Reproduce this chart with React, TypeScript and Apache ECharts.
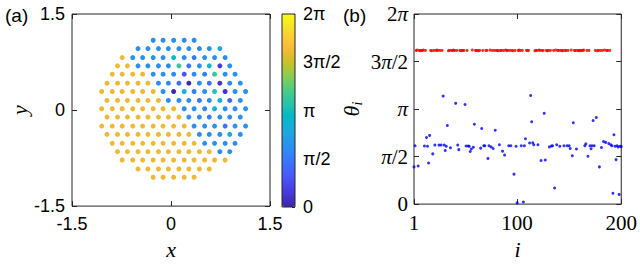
import React, { useEffect, useRef } from 'react';
import * as echarts from 'echarts';

const PI = Math.PI;
const SANS = '"Liberation Sans", Arial, sans-serif';
const SERIF = '"Liberation Serif", "Times New Roman", serif';
const BOX = '#262626';

// ---------- panel (a): particle positions and phases [x, y, theta] ----------
const diskYellow: number[][] = [
  [-0.74, 0.82, 5.08],
  [-0.81, 0.69, 5.08], [-0.66, 0.69, 5.08],
  [-0.89, 0.56, 5.08], [-0.74, 0.56, 5.08], [-0.58, 0.56, 5.08], [-0.43, 0.56, 5.08],
  [-0.97, 0.42, 5.08], [-0.81, 0.42, 5.08], [-0.66, 0.42, 5.08], [-0.5, 0.42, 5.08], [-0.35, 0.42, 5.08],
  [-1.05, 0.29, 5.08], [-0.89, 0.29, 5.08], [-0.74, 0.29, 5.08], [-0.58, 0.29, 5.08], [-0.43, 0.29, 5.08], [-0.27, 0.29, 5.08],
  [-0.97, 0.15, 5.08], [-0.81, 0.15, 5.08], [-0.66, 0.15, 5.08], [-0.5, 0.15, 5.08], [-0.35, 0.15, 5.08], [-0.19, 0.15, 5.08],
  [-1.05, 0.02, 5.08], [-0.89, 0.02, 5.08], [-0.74, 0.02, 5.08], [-0.58, 0.02, 5.08], [-0.43, 0.02, 5.08], [-0.27, 0.02, 5.08], [-0.12, 0.02, 5.08], [0.04, 0.02, 5.08],
  [-0.97, -0.11, 5.08], [-0.81, -0.11, 5.08], [-0.66, -0.11, 5.08], [-0.5, -0.11, 5.08], [-0.35, -0.11, 5.08], [-0.19, -0.11, 5.08], [-0.04, -0.11, 5.08], [0.12, -0.11, 5.08],
  [-1.05, -0.25, 5.08], [-0.89, -0.25, 5.08], [-0.74, -0.25, 5.08], [-0.58, -0.25, 5.08], [-0.43, -0.25, 5.08], [-0.27, -0.25, 5.08], [-0.12, -0.25, 5.08], [0.04, -0.25, 5.08], [0.2, -0.25, 5.08],
  [-0.97, -0.38, 5.08], [-0.81, -0.38, 5.08], [-0.66, -0.38, 5.08], [-0.5, -0.38, 5.08], [-0.35, -0.38, 5.08], [-0.19, -0.38, 5.08], [-0.04, -0.38, 5.08], [0.12, -0.38, 5.08], [0.27, -0.38, 5.08],
  [-0.89, -0.52, 5.08], [-0.74, -0.52, 5.08], [-0.58, -0.52, 5.08], [-0.43, -0.52, 5.08], [-0.27, -0.52, 5.08], [-0.12, -0.52, 5.08], [0.04, -0.52, 5.08], [0.2, -0.52, 5.08], [0.35, -0.52, 5.08],
  [-0.81, -0.65, 5.08], [-0.66, -0.65, 5.08], [-0.5, -0.65, 5.08], [-0.35, -0.65, 5.08], [-0.19, -0.65, 5.08], [-0.04, -0.65, 5.08], [0.12, -0.65, 5.08], [0.27, -0.65, 5.08], [0.43, -0.65, 5.08], [0.58, -0.65, 5.08],
  [-0.74, -0.78, 5.08], [-0.58, -0.78, 5.08], [-0.43, -0.78, 5.08], [-0.27, -0.78, 5.08], [-0.12, -0.78, 5.08], [0.04, -0.78, 5.08], [0.2, -0.78, 5.08], [0.35, -0.78, 5.08], [0.51, -0.78, 5.08], [0.66, -0.78, 5.08], [0.82, -0.78, 5.08],
  [-0.5, -0.92, 5.08], [-0.35, -0.92, 5.08], [-0.19, -0.92, 5.08], [-0.04, -0.92, 5.08], [0.12, -0.92, 5.08], [0.27, -0.92, 5.08], [0.43, -0.92, 5.08], [0.58, -0.92, 5.08],
  [-0.27, -1.05, 5.08], [-0.12, -1.05, 5.08], [0.04, -1.05, 5.08], [0.2, -1.05, 5.08], [0.35, -1.05, 5.08],
];

const diskBlue: number[][] = [
  [-0.27, 1.09, 1.93], [-0.12, 1.09, 1.9], [0.04, 1.09, 1.95], [0.2, 1.09, 1.93], [0.35, 1.09, 1.92],
  [-0.5, 0.96, 1.93], [-0.35, 0.96, 1.91], [-0.19, 0.96, 1.95], [-0.04, 0.96, 1.93], [0.12, 0.96, 1.92], [0.27, 0.96, 1.93], [0.43, 0.96, 1.9], [0.58, 0.96, 1.93], [0.74, 0.96, 2.5],
  [-0.58, 0.82, 1.93], [-0.43, 0.82, 1.93], [-0.27, 0.82, 1.96], [-0.12, 0.82, 1.93], [0.04, 0.82, 3.0], [0.2, 0.82, 1.93], [0.35, 0.82, 1.62], [0.51, 0.82, 1.93], [0.66, 0.82, 1.91], [0.82, 0.82, 1.93],
  [-0.5, 0.69, 1.93], [-0.35, 0.69, 1.93], [-0.19, 0.69, 1.95], [-0.04, 0.69, 1.92], [0.12, 0.69, 3.57], [0.27, 0.69, 1.51], [0.43, 0.69, 1.93], [0.58, 0.69, 2.86], [0.74, 0.69, 0.5], [0.89, 0.69, 1.93],
  [-0.27, 0.56, 1.93], [-0.12, 0.56, 1.93], [0.04, 0.56, 1.89], [0.2, 0.56, 0.99], [0.35, 0.56, 1.93], [0.51, 0.56, 1.66], [0.66, 0.56, 3.59], [0.82, 0.56, 1.93], [0.97, 0.56, 1.93],
  [-0.19, 0.42, 1.93], [-0.04, 0.42, 1.92], [0.12, 0.42, 1.44], [0.27, 0.42, 0.05], [0.43, 0.42, 1.93], [0.58, 0.42, 1.46], [0.74, 0.42, 0.35], [0.89, 0.42, 1.93], [1.05, 0.42, 1.95],
  [-0.12, 0.29, 1.93], [0.04, 0.29, 0.1], [0.2, 0.29, 2.72], [0.35, 0.29, 1.75], [0.51, 0.29, 1.93], [0.66, 0.29, 3.33], [0.82, 0.29, 0.32], [0.97, 0.29, 1.93], [1.13, 0.29, 1.93],
  [-0.04, 0.15, 1.93], [0.12, 0.15, 1.91], [0.27, 0.15, 1.93], [0.43, 0.15, 1.58], [0.58, 0.15, 1.93], [0.74, 0.15, 2.76], [0.89, 0.15, 1.23], [1.05, 0.15, 1.93],
  [0.2, 0.02, 1.93], [0.35, 0.02, 1.93], [0.51, 0.02, 1.84], [0.66, 0.02, 2.69], [0.82, 0.02, 1.93], [0.97, 0.02, 1.93], [1.13, 0.02, 1.96],
  [0.27, -0.11, 1.93], [0.43, -0.11, 1.93], [0.58, -0.11, 1.6], [0.74, -0.11, 1.93], [0.89, -0.11, 1.93], [1.05, -0.11, 1.92],
  [0.35, -0.25, 1.93], [0.51, -0.25, 1.93], [0.66, -0.25, 1.93], [0.82, -0.25, 1.47], [0.97, -0.25, 1.93], [1.13, -0.25, 1.93],
  [0.43, -0.38, 1.93], [0.58, -0.38, 1.93], [0.74, -0.38, 1.93], [0.89, -0.38, 2.6], [1.05, -0.38, 1.93],
  [0.51, -0.52, 1.93], [0.66, -0.52, 1.93], [0.82, -0.52, 1.93], [0.97, -0.52, 1.93],
  [0.74, -0.65, 1.93], [0.89, -0.65, 1.93],
];

// ---------- panel (b): theta_i versus index i ----------
const blueIdx = [
  1, 2, 5, 11, 13, 14, 15, 16, 19, 21, 25, 27, 29, 30, 31, 32, 33, 36, 41, 43, 44, 50, 51, 53, 54, 55, 56, 58, 59, 65, 66, 68,
  69, 72, 73, 75, 77, 79, 83, 86, 88, 92, 94, 97, 99, 100, 104, 106, 107, 108, 112, 113, 114, 115, 116, 120, 123, 126, 127, 131, 133, 134, 136,
  138, 141, 145, 148, 150, 151, 153, 154, 157, 165, 166, 168, 170, 171, 172, 173, 174, 176, 179, 181, 183, 185, 188, 190,
  191, 192, 193, 194, 195, 196, 197, 198, 199, 200,
];
const blueTheta = [
  1.23, 1.93, 1.26, 1.92, 2.2, 1.91, 1.36, 2.27, 1.66, 1.95, 1.95, 1.95, 3.57, 1.95, 1.77, 1.91, 2.6, 1.86, 3.33, 1.95, 1.8, 3.29, 1.92, 1.92, 1.91, 1.74, 1.82, 1.88, 2.64, 1.85, 2.5, 1.93,
  1.93, 1.51, 1.93, 1.89, 1.84, 2.44, 1.96, 1.75, 1.62, 1.93, 1.93, 0.99, 1.91, 0.04, 1.93, 0.07, 1.93, 2.16, 2.02, 3.59, 2.72, 2.03, 1.96, 1.96, 1.44, 3.0, 1.46, 1.89, 1.92, 1.93, 0.53,
  1.96, 1.91, 1.93, 1.93, 1.93, 1.84, 1.6, 2.69, 1.82, 1.93, 1.99, 1.58, 1.93, 1.83, 1.93, 2.76, 1.93, 2.86, 1.23, 1.87, 2.07, 2.04, 2.0, 1.96,
  1.93, 0.36, 2.29, 1.91, 1.47, 1.93, 1.89, 0.32, 1.91, 1.9,
];
const redIdx = [
  3, 4, 6, 7, 8, 9, 10, 12, 17, 18, 20, 22, 23, 24, 26, 28, 34, 35, 37, 38, 39, 40, 42, 45, 46, 47, 48, 49, 52, 57,
  60, 61, 62, 63, 64, 67, 70, 71, 74, 76, 78, 80, 81, 82, 84, 85, 87, 89, 90, 91, 93, 95, 96, 98, 101, 102, 103, 105,
  109, 110, 111, 117, 118, 119, 121, 122, 124, 125, 128, 129, 130, 132, 135, 137, 139, 140, 142, 143, 144, 146, 147, 149,
  152, 155, 156, 158, 159, 160, 161, 162, 163, 164, 167, 169, 175, 177, 178, 180, 182, 184, 186, 187, 189,
];
const redTheta = [
  5.08, 5.09, 5.08, 5.07, 5.08, 5.08, 5.09, 5.08, 5.08, 5.07, 5.08, 5.08, 5.09, 5.08, 5.08, 5.08, 5.07, 5.08, 5.08, 5.08,
  5.09, 5.08, 5.08, 5.08, 5.07, 5.08, 5.08, 5.08, 5.08, 5.09, 5.08, 5.08, 5.08, 5.07, 5.08, 5.08, 5.08, 5.08, 5.09, 5.08,
  5.08, 5.08, 5.08, 5.07, 5.08, 5.08, 5.08, 5.09, 5.08, 5.08, 5.08, 5.08, 5.07, 5.08, 5.08, 5.09, 5.08, 5.08, 5.08, 5.08,
  5.08, 5.07, 5.08, 5.08, 5.09, 5.08, 5.08, 5.08, 5.08, 5.07, 5.08, 5.08, 5.08, 5.09, 5.08, 5.08, 5.08, 5.08, 5.07, 5.08,
  5.08, 5.08, 5.09, 5.08, 5.08, 5.08, 5.08, 5.07, 5.08, 5.08, 5.08, 5.09, 5.08, 5.08, 5.08, 5.07, 5.08, 5.08, 5.08, 5.09,
  5.08, 5.08, 5.08,
];

// ---------- ticks ----------
const aTicks = [-1.5, 0, 1.5];
const cbTickLabels = ['0', 'π/2', 'π', '3π/2', '2π'];
const bYTickRich = ['{r|0}', '{i|π}{r|/2}', '{i|π}', '{r|3}{i|π}{r|/2}', '{r|2}{i|π}'];
const bXTicks = [1, 100, 200];

// parula colormap samples
const parula = [
  '#3E26A8', '#4332CB', '#4741E5', '#4852F4', '#4563FD', '#3875FE', '#2E87F7', '#2796EB', '#20A5E2', '#12B1D6', '#02BAC3',
  '#24C1AE', '#37C897', '#57CC7A', '#81CC59', '#ABC739', '#D1BF27', '#EFBA36', '#FEC338', '#F9D62D', '#F5E924', '#F9FB15',
];

const tick = (len = 5) => ({ show: true, inside: true, length: len, lineStyle: { color: BOX, width: 1 } });
const noLine = { show: false, onZero: false };
const noSplit = { show: false };

const piIndex = (v: number) => Math.round(v / (PI / 2));
const aLabel = (v: number) => String(aTicks.find((t) => Math.abs(t - v) < 1e-6) ?? v);

function buildOption() {
  const diskData = [...diskYellow, ...diskBlue];
  const redData = redIdx.map((i, k) => [i, redTheta[k]]);
  const blueData = blueIdx.map((i, k) => [i, blueTheta[k]]);
  const nameStyle = { fontFamily: SERIF, fontStyle: 'italic', fontSize: 22, color: '#000' };

  return {
    animation: false,
    backgroundColor: '#fff',
    grid: [
      { left: 72, top: 14, width: 198, height: 193, show: true, borderColor: BOX, borderWidth: 1, backgroundColor: 'transparent' },
      { left: 282, top: 14, width: 13, height: 193, show: true, borderColor: BOX, borderWidth: 1, backgroundColor: 'transparent', z: 10 },
      { left: 414, top: 14, width: 208, height: 193, show: true, borderColor: BOX, borderWidth: 1, backgroundColor: 'transparent' },
    ],
    xAxis: [
      {
        gridIndex: 0, type: 'value', min: -1.5, max: 1.5, interval: 1.5, position: 'bottom',
        axisLine: noLine, axisTick: tick(), splitLine: noSplit,
        axisLabel: { fontFamily: SANS, fontSize: 18, color: '#000', margin: 9, formatter: aLabel },
        name: 'x', nameLocation: 'middle', nameGap: 30, nameTextStyle: nameStyle,
      },
      { gridIndex: 0, type: 'value', min: -1.5, max: 1.5, interval: 1.5, position: 'top', axisLine: noLine, axisTick: tick(), splitLine: noSplit, axisLabel: { show: false } },
      { gridIndex: 1, type: 'value', min: 0, max: 1, show: false },
      {
        gridIndex: 2, type: 'value', min: 1, max: 200, position: 'bottom',
        axisLine: noLine, axisTick: { ...tick(), customValues: bXTicks }, splitLine: noSplit,
        axisLabel: { customValues: bXTicks, fontFamily: SERIF, fontSize: 21, color: '#000', margin: 8 },
        name: 'i', nameLocation: 'middle', nameGap: 30, nameTextStyle: nameStyle,
      },
      { gridIndex: 2, type: 'value', min: 1, max: 200, position: 'top', axisLine: noLine, axisTick: { ...tick(), customValues: bXTicks }, splitLine: noSplit, axisLabel: { show: false } },
    ],
    yAxis: [
      {
        gridIndex: 0, type: 'value', min: -1.5, max: 1.5, interval: 1.5, position: 'left',
        axisLine: noLine, axisTick: tick(), splitLine: noSplit,
        axisLabel: { fontFamily: SANS, fontSize: 18, color: '#000', margin: 7, formatter: aLabel },
        name: 'y', nameLocation: 'middle', nameGap: 38, nameTextStyle: nameStyle,
      },
      { gridIndex: 0, type: 'value', min: -1.5, max: 1.5, interval: 1.5, position: 'right', axisLine: noLine, axisTick: tick(), splitLine: noSplit, axisLabel: { show: false } },
      {
        gridIndex: 1, type: 'value', min: 0, max: 2 * PI, interval: PI / 2, position: 'right',
        axisLine: noLine, axisTick: tick(3), splitLine: noSplit,
        axisLabel: { fontFamily: SANS, fontSize: 18, color: '#000', margin: 8, formatter: (v: number) => cbTickLabels[piIndex(v)] },
      },
      {
        gridIndex: 2, type: 'value', min: 0, max: 2 * PI, interval: PI / 2, position: 'left',
        axisLine: noLine, axisTick: tick(), splitLine: noSplit,
        axisLabel: {
          margin: 6, color: '#000', formatter: (v: number) => bYTickRich[piIndex(v)],
          rich: {
            r: { fontFamily: SERIF, fontSize: 21, color: '#000' },
            i: { fontFamily: SERIF, fontSize: 21, fontStyle: 'italic', color: '#000' },
          },
        },
        name: '{t|θ}{s|i}', nameLocation: 'middle', nameGap: 50,
        nameTextStyle: {
          rich: {
            t: { fontFamily: SERIF, fontStyle: 'italic', fontSize: 22, color: '#000', lineHeight: 26, verticalAlign: 'middle' },
            s: { fontFamily: SERIF, fontStyle: 'italic', fontSize: 14, color: '#000', verticalAlign: 'bottom', lineHeight: 26, padding: [8, 0, 0, 0] },
          },
        },
      },
      { gridIndex: 2, type: 'value', min: 0, max: 2 * PI, interval: PI / 2, position: 'right', axisLine: noLine, axisTick: tick(), splitLine: noSplit, axisLabel: { show: false } },
    ],
    visualMap: {
      type: 'continuous', seriesIndex: 0, dimension: 2, min: 0, max: 2 * PI,
      inRange: { color: parula }, calculable: false, orient: 'vertical',
      left: 282, top: 14, itemWidth: 13, itemHeight: 193, padding: 0, text: null, hoverLink: false,
    },
    graphic: [
      { type: 'text', left: 5, top: 6, style: { text: '(a)', font: `19px ${SANS}`, fill: '#000' } },
      { type: 'text', left: 343, top: 6, style: { text: '(b)', font: `19px ${SANS}`, fill: '#000' } },
    ],
    series: [
      { type: 'scatter', xAxisIndex: 0, yAxisIndex: 0, data: diskData, symbolSize: 5, itemStyle: { opacity: 1 } },
      { type: 'scatter', xAxisIndex: 2, yAxisIndex: 2, data: [] },
      { type: 'scatter', xAxisIndex: 3, yAxisIndex: 3, data: redData, symbolSize: 3, itemStyle: { color: '#ff0000' } },
      { type: 'scatter', xAxisIndex: 3, yAxisIndex: 3, data: blueData, symbolSize: 3, itemStyle: { color: '#0000ff' } },
    ],
  };
}

export default function App() {
  const ref = useRef<HTMLDivElement>(null);
  useEffect(() => {
    if (!ref.current) return;
    const chart = echarts.init(ref.current, null, { renderer: 'svg' });
    chart.setOption(buildOption() as any);
    return () => chart.dispose();
  }, []);
  return (
    <div
      ref={ref}
      style={{ position: 'fixed', left: 0, top: 0, width: 640, height: 265, background: '#fff' }}
    />
  );
}
